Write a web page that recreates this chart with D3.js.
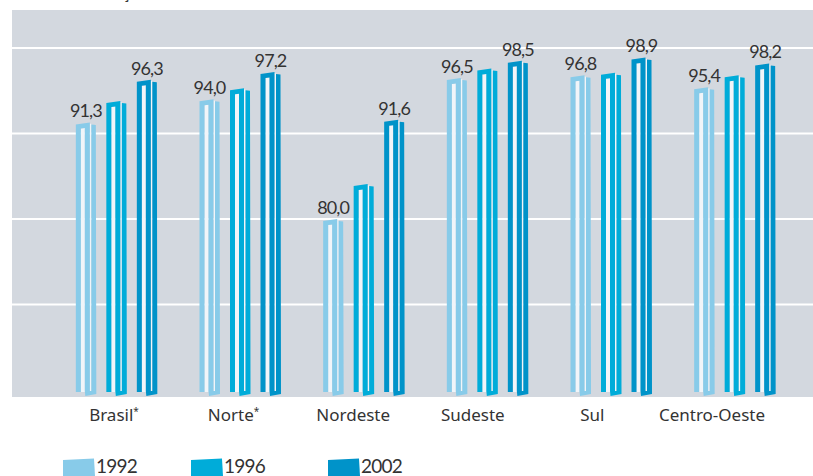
<!DOCTYPE html>
<html>
<head>
<meta charset="utf-8">
<script src="https://cdn.jsdelivr.net/npm/d3@7"></script>
<style>
  html, body { margin: 0; padding: 0; background: #ffffff; }
  svg { display: block; }
</style>
</head>
<body>
<svg id="chart" width="813" height="476"></svg>
<script>
// ---- data ----
const categories = ["Brasil", "Norte", "Nordeste", "Sudeste", "Sul", "Centro-Oeste"];
const categoryMarks = ["*", "*", "", "", "", ""];
const years = ["1992", "1996", "2002"];
const values1992 = [91.3, 94.0, 80.0, 96.5, 96.8, 95.4];
const values1996 = [93.8, 95.3, 84.1, 97.6, 97.1, 96.8];
const values2002 = [96.3, 97.2, 91.6, 98.5, 98.9, 98.2];
const labelled = [true, false, true]; // which series carry value labels
const gridTicks = [70, 80, 90, 100];
const titleText = "Evolução da taxa de atendimento escolar";

const seriesValues = [values1992, values1996, values2002];
const colors = ["#88cbe9", "#00acd9", "#0093c9"];
const slitColor = "#f1f5f9";

const svg = d3.select("#chart");
const plot = { left: 12, top: 10, right: 813, bottom: 397 };

// title (cropped off at the top in the original)
svg.append("text")
  .attr("x", 81).attr("y", -1)
  .attr("font-family", "Lato, 'Open Sans', sans-serif")
  .attr("font-size", 17).attr("fill", "#333")
  .text(titleText);

// plot background
svg.append("rect")
  .attr("x", plot.left).attr("y", plot.top)
  .attr("width", plot.right - plot.left).attr("height", plot.bottom - plot.top)
  .attr("fill", "#d3d8df");

const y = d3.scaleLinear().domain([60, 100]).range([390, 48]);
const x = d3.scaleBand().domain(categories).range([55, 797]).padding(0);
const xInner = d3.scalePoint().domain(years).range([-31, 30]);
const xLabel = d3.scalePoint().domain(categories).range([114, 712]);

// gridlines
svg.append("g").selectAll("line").data(gridTicks).join("line")
  .attr("x1", plot.left).attr("x2", plot.right)
  .attr("y1", d => y(d)).attr("y2", d => y(d))
  .attr("stroke", "#ffffff").attr("stroke-width", 2);

const base = y(60);
const bw = 20;

function barParts(x0, top) {
  const p = [];
  p.push({ fill: "slit", pts: [[x0 + 5, top + 6], [x0 + 9, top + 5.5], [x0 + 9, base + 2], [x0 + 5, base + 2]] });
  p.push({ fill: "slit", pts: [[x0 + 14, top + 1], [x0 + 15.5, top + 1.5], [x0 + 15.5, base + 1], [x0 + 14, base + 1]] });
  p.push({ fill: "c", pts: [[x0, top + 2], [x0 + 14, top], [x0 + 14, base + 1], [x0 + 9, base + 1],
    [x0 + 9, top + 5.5], [x0 + 5, top + 6], [x0 + 5, base + 2], [x0, base + 2]] });
  p.push({ fill: "c", pts: [[x0 + 9, base + 1], [x0 + 15.5, base + 1],
    [x0 + 15.5, top + 2], [x0 + 20, top + 2.5], [x0 + 20.5, base + 4], [x0 + 9.5, base + 6]] });
  return p;
}

const gBars = svg.append("g");
categories.forEach((cat, ci) => {
  const cx = x(cat) + x.bandwidth() / 2;
  years.forEach((yr, si) => {
    const v = seriesValues[si][ci];
    const bc = cx + xInner(yr);
    const x0 = bc - bw / 2;
    const top = y(v);
    barParts(x0, top).forEach(part => {
      gBars.append("polygon")
        .attr("points", part.pts.map(q => q.join(",")).join(" "))
        .attr("fill", part.fill === "slit" ? slitColor : colors[si]);
    });
    if (labelled[si]) {
      gBars.append("text")
        .attr("x", bc).attr("y", top - 5)
        .attr("text-anchor", "middle")
        .attr("font-family", "Lato, 'Open Sans', sans-serif")
        .attr("font-size", 18).attr("fill", "#333")
        .attr("letter-spacing", -0.9)
        .text(d3.format(".1f")(v).replace(".", ","));
    }
  });
});

// category labels
const gAxis = svg.append("g");
categories.forEach((cat, ci) => {
  const t = gAxis.append("text")
    .attr("x", xLabel(cat)).attr("y", 421)
    .attr("text-anchor", "middle")
    .attr("font-family", "'Noto Sans', 'Open Sans', sans-serif")
    .attr("font-size", 17).attr("fill", "#333");
  t.append("tspan").text(cat);
  if (categoryMarks[ci]) {
    t.append("tspan").attr("font-size", 10).attr("dy", -6).text(categoryMarks[ci]);
  }
});

// legend
const legendX = [63, 191, 328];
const gLeg = svg.append("g");
years.forEach((yr, si) => {
  const lx = legendX[si];
  gLeg.append("polygon")
    .attr("points", [[lx, 460], [lx + 31, 458.5], [lx + 32, 476], [lx, 476]].map(q => q.join(",")).join(" "))
    .attr("fill", colors[si]);
  gLeg.append("text")
    .attr("x", lx + 33).attr("y", 473)
    .attr("font-family", "Lato, 'Open Sans', sans-serif")
    .attr("font-size", 19).attr("fill", "#333")
    .attr("letter-spacing", -0.8)
    .text(yr);
});
</script>
</body>
</html>
